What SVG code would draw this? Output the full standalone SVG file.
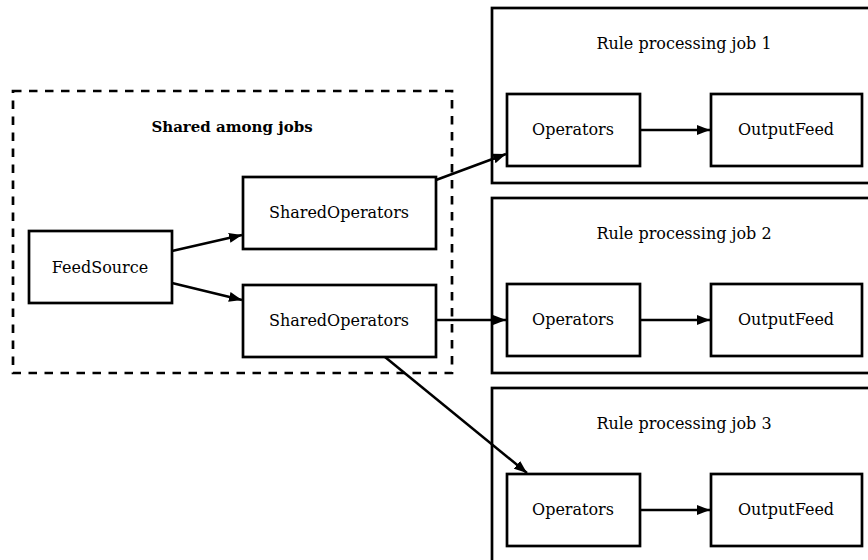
<svg xmlns="http://www.w3.org/2000/svg" width="868" height="560" viewBox="0 0 868 560">
<style>
  .box { fill: #fff; stroke: #000; stroke-width: 2.7; }
  .job { fill: #fff; stroke: #000; stroke-width: 2.7; }
  .group { fill: none; stroke: #000; stroke-width: 2.7; stroke-dasharray: 8.5 7.5; }
  .lbl { font-family: "DejaVu Serif", serif; font-size: 16px; text-anchor: middle; fill: #000; }
  .title { font-family: "DejaVu Serif", serif; font-size: 15px; font-weight: bold; text-anchor: middle; fill: #000; }
  .edge { fill: none; stroke: #000; stroke-width: 2.5; marker-end: url(#arr); }
</style>
<defs>
  <marker id="arr" viewBox="0 0 13 10" refX="13" refY="5" markerWidth="13" markerHeight="10" markerUnits="userSpaceOnUse" orient="auto">
    <path d="M0,0 L13,5 L0,10 Z" fill="#000"/>
  </marker>
</defs>
<rect width="868" height="560" fill="#fff"/>

<g id="shared-group">
  <rect class="group" x="13" y="91" width="439" height="282"/>
  <text class="title" x="232" y="132">Shared among jobs</text>
</g>

<g id="job1">
  <rect class="job" x="492" y="8" width="380" height="175"/>
  <text class="lbl" x="684" y="49">Rule processing job 1</text>
</g>
<g id="job2">
  <rect class="job" x="492" y="198" width="380" height="175"/>
  <text class="lbl" x="684" y="239">Rule processing job 2</text>
</g>
<g id="job3">
  <rect class="job" x="492" y="388" width="380" height="180"/>
  <text class="lbl" x="684" y="429">Rule processing job 3</text>
</g>

<g id="feedsource">
  <rect class="box" x="29" y="231" width="143" height="72"/>
  <text class="lbl" x="100" y="273">FeedSource</text>
</g>
<g id="shared1">
  <rect class="box" x="243" y="177" width="193" height="72"/>
  <text class="lbl" x="339" y="218">SharedOperators</text>
</g>
<g id="shared2">
  <rect class="box" x="243" y="285" width="193" height="72"/>
  <text class="lbl" x="339" y="326">SharedOperators</text>
</g>

<g id="ops1">
  <rect class="box" x="507" y="94" width="133" height="72"/>
  <text class="lbl" x="573" y="135">Operators</text>
</g>
<g id="out1">
  <rect class="box" x="711" y="94" width="151" height="72"/>
  <text class="lbl" x="786" y="135">OutputFeed</text>
</g>
<g id="ops2">
  <rect class="box" x="507" y="284" width="133" height="72"/>
  <text class="lbl" x="573" y="325">Operators</text>
</g>
<g id="out2">
  <rect class="box" x="711" y="284" width="151" height="72"/>
  <text class="lbl" x="786" y="325">OutputFeed</text>
</g>
<g id="ops3">
  <rect class="box" x="507" y="474" width="133" height="72"/>
  <text class="lbl" x="573" y="515">Operators</text>
</g>
<g id="out3">
  <rect class="box" x="711" y="474" width="151" height="72"/>
  <text class="lbl" x="786" y="515">OutputFeed</text>
</g>

<g id="connectors">
  <line class="edge" x1="172" y1="251" x2="242" y2="235"/>
  <line class="edge" x1="172" y1="283" x2="242" y2="300"/>
  <line class="edge" x1="436" y1="180" x2="506" y2="154"/>
  <line class="edge" x1="436" y1="320" x2="506" y2="320"/>
  <line class="edge" x1="385" y1="357" x2="527" y2="473"/>
  <line class="edge" x1="640" y1="130" x2="710" y2="130"/>
  <line class="edge" x1="640" y1="320" x2="710" y2="320"/>
  <line class="edge" x1="640" y1="510" x2="710" y2="510"/>
</g>
</svg>
